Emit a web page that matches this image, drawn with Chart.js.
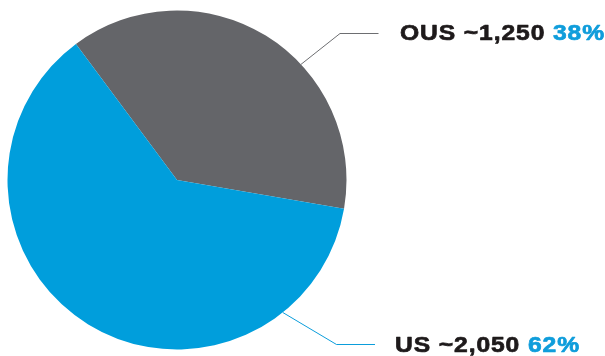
<!DOCTYPE html>
<html>
<head>
<meta charset="utf-8">
<script src="https://cdn.jsdelivr.net/npm/chart.js@4"></script>
<style>
  html, body { margin: 0; padding: 0; background: #fff; }
  #wrap { width: 605px; height: 356px; position: relative; }
</style>
</head>
<body>
<div id="wrap"><canvas id="pie"></canvas></div>
<script>
// chart data
const categories = ["OUS", "US"];
const values = [1250, 2050];
const valueLabels = ["~1,250", "~2,050"];
const percentLabels = ["38%", "62%"];

const sliceColors = ["#646569", "#009edc"];
const lineColors = ["#6d6e71", "#0b9ddb"];

// leader line + label placement (angle on the rim in degrees, elbow / end / text in px)
const labelLayout = [
  { angle: -43, elbow: [340, 33.5], end: [378.5, 33.5], text: [400, 40] },
  { angle: 51.4, elbow: [336.5, 344.5], end: [375, 344.5], text: [395, 351.5] },
];

const leaderLabels = {
  id: "leaderLabels",
  afterDraw(chart) {
    const ctx = chart.ctx;
    const meta = chart.getDatasetMeta(0);
    meta.data.forEach((arc, i) => {
      const lay = labelLayout[i];
      const a = lay.angle * Math.PI / 180;
      const sx = arc.x + Math.cos(a) * arc.outerRadius;
      const sy = arc.y + Math.sin(a) * arc.outerRadius;
      ctx.save();
      ctx.strokeStyle = lineColors[i];
      ctx.lineWidth = 1;
      ctx.beginPath();
      ctx.moveTo(sx, sy);
      ctx.lineTo(lay.elbow[0], lay.elbow[1]);
      ctx.lineTo(lay.end[0], lay.end[1]);
      ctx.stroke();

      // wide, heavy label text (stretched horizontally like the original face)
      ctx.translate(lay.text[0], lay.text[1]);
      ctx.scale(1.12, 1);
      ctx.font = "bold 22px 'Liberation Sans', Arial, sans-serif";
      ctx.letterSpacing = "0.8px";
      ctx.textBaseline = "alphabetic";
      ctx.textAlign = "left";
      ctx.lineWidth = 0.7;
      ctx.lineJoin = "round";
      const main = categories[i] + " " + valueLabels[i] + " ";
      ctx.fillStyle = ctx.strokeStyle = "#1e1a1b";
      ctx.fillText(main, 0, 0);
      ctx.strokeText(main, 0, 0);
      const w = ctx.measureText(main).width;
      ctx.fillStyle = ctx.strokeStyle = "#0f9ddb";
      ctx.fillText(percentLabels[i], w, 0);
      ctx.strokeText(percentLabels[i], w, 0);
      ctx.restore();
    });
  },
};

new Chart(document.getElementById("pie"), {
  type: "pie",
  data: {
    labels: categories,
    datasets: [{
      data: values,
      backgroundColor: sliceColors,
      borderWidth: 0,
    }],
  },
  options: {
    responsive: true,
    maintainAspectRatio: false,
    animation: false,
    rotation: -36.6,
    layout: { padding: { left: 7.5, top: 10.5, bottom: 6.5, right: 258.5 } },
    plugins: {
      legend: { display: false },
      tooltip: { enabled: false },
    },
  },
  plugins: [leaderLabels],
});
</script>
</body>
</html>
